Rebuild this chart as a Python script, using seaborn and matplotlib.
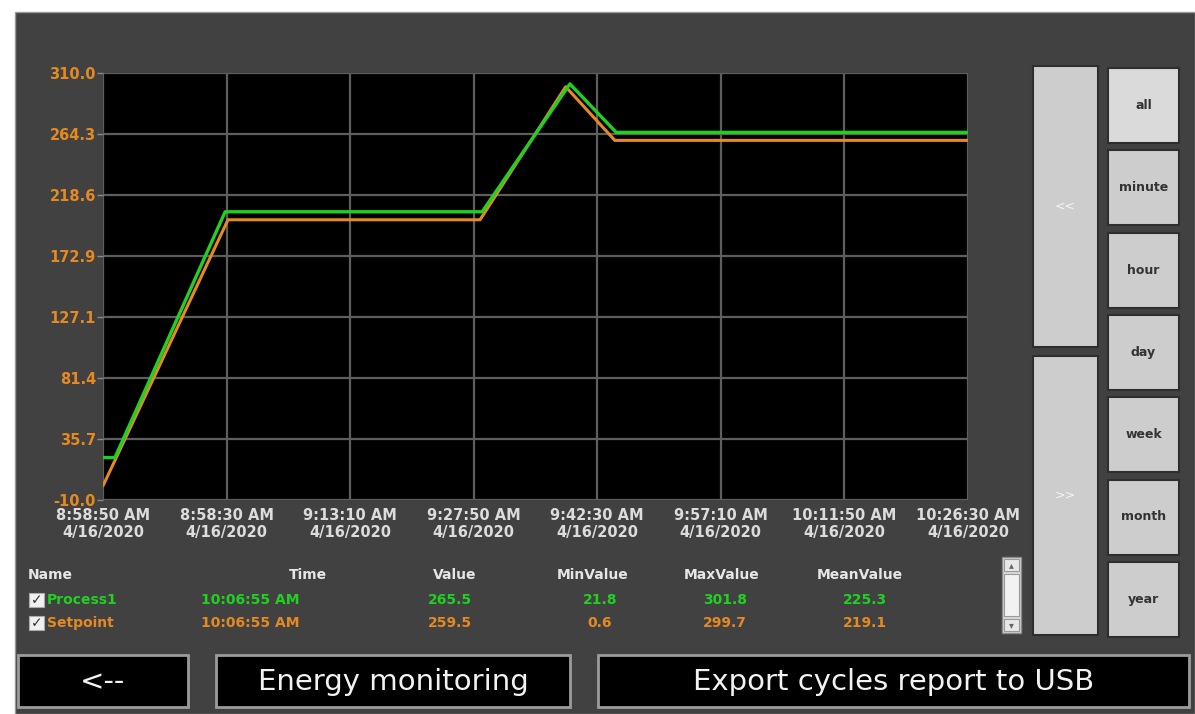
import numpy as np
import matplotlib
matplotlib.use("Agg")
import matplotlib.pyplot as plt
import matplotlib.dates as mdates
from matplotlib.patches import Rectangle
import pandas as pd
import seaborn as sns

#### DATA ##########
# trend points (time, value)
process_times = ['08:43:50', '08:45:15', '08:58:20', '09:28:50', '09:39:15', '09:44:45', '10:26:30']
process_values = [21.8, 21.8, 206.0, 206.0, 301.8, 265.5, 265.5]
setpoint_times = ['08:43:50', '08:58:40', '09:28:35', '09:38:45', '09:44:35', '10:26:30']
setpoint_values = [0.6, 200.0, 200.0, 299.7, 259.5, 259.5]

y_ticks = [-10.0, 35.7, 81.4, 127.1, 172.9, 218.6, 264.3, 310.0]
x_tick_times = ['08:43:50', '08:58:30', '09:13:10', '09:27:50', '09:42:30', '09:57:10', '10:11:50', '10:26:30']
x_tick_labels = ['8:58:50 AM\n4/16/2020', '8:58:30 AM\n4/16/2020', '9:13:10 AM\n4/16/2020',
                 '9:27:50 AM\n4/16/2020', '9:42:30 AM\n4/16/2020', '9:57:10 AM\n4/16/2020',
                 '10:11:50 AM\n4/16/2020', '10:26:30 AM\n4/16/2020']

table_header = ['Name', 'Time', 'Value', 'MinValue', 'MaxValue', 'MeanValue']
table_rows = [['Process1', '10:06:55 AM', '265.5', '21.8', '301.8', '225.3'],
              ['Setpoint', '10:06:55 AM', '259.5', '0.6', '299.7', '219.1']]

range_buttons = ['all', 'minute', 'hour', 'day', 'week', 'month', 'year']
bottom_buttons = ['<--', 'Energy monitoring', 'Export cycles report to USB']

#### COLORS ##########
BG = '#414141'
GREEN = '#22d022'
ORANGE = '#e58a22'
BTN = '#cdcdcd'

day = '2020-04-16 '
proc = pd.DataFrame({'time': pd.to_datetime([day + t for t in process_times]), 'value': process_values})
setp = pd.DataFrame({'time': pd.to_datetime([day + t for t in setpoint_times]), 'value': setpoint_values})
xt = pd.to_datetime([day + t for t in x_tick_times])

sns.set_theme(style='dark')
plt.rcParams['font.family'] = ['DejaVu Sans']

fig = plt.figure(figsize=(11.95, 7.14), dpi=100)
fig.patch.set_facecolor('white')

# screen background / widgets in pixel coords
ui = fig.add_axes([0, 0, 1, 1], zorder=0)
ui.set_xlim(0, 1195)
ui.set_ylim(714, 0)
ui.axis('off')
ui.add_patch(Rectangle((15, 12), 1180, 702, facecolor=BG, edgecolor='#9a9a9a', lw=1))

# table under the chart
col_x = [28, 308, 455, 593, 722, 860]
val_x = [47, 250, 450, 600, 725, 865]
for i, h in enumerate(table_header):
    ui.text(col_x[i], 575, h, color='#e6e6e6', fontsize=10, fontweight='bold',
            ha='left' if i == 0 else 'center', va='center')
for r, (row, col) in enumerate(zip(table_rows, [GREEN, ORANGE])):
    y = 600 + r * 23
    ui.add_patch(Rectangle((29, y - 7), 15, 14, facecolor='#f0f0f0', edgecolor='#aaaaaa', lw=0.8))
    ui.text(36.5, y, '\u2713', color='#333333', fontsize=10, fontweight='bold', ha='center', va='center')
    for i, v in enumerate(row):
        ui.text(val_x[i], y, v, color=col, fontsize=10, fontweight='bold',
                ha='left' if i == 0 else 'center', va='center')

# scrollbar
ui.add_patch(Rectangle((1002, 557), 19, 76, facecolor='#d8d8d8', edgecolor='#8a8a8a', lw=1))
ui.add_patch(Rectangle((1004, 559), 15, 12, facecolor='#e8e8e8', edgecolor='#9a9a9a', lw=0.8))
ui.add_patch(Rectangle((1004, 619), 15, 12, facecolor='#e8e8e8', edgecolor='#9a9a9a', lw=0.8))
ui.add_patch(Rectangle((1004, 574), 15, 42, facecolor='#f2f2f2', edgecolor='#9a9a9a', lw=0.8))
ui.text(1011.5, 565, '\u25b4', color='#666666', fontsize=7, ha='center', va='center')
ui.text(1011.5, 625, '\u25be', color='#666666', fontsize=7, ha='center', va='center')

# scroll buttons
for y0, y1, s in [(66, 347, '<<'), (356, 635, '>>')]:
    ui.add_patch(Rectangle((1033, y0), 65, y1 - y0, facecolor=BTN, edgecolor='#2e2e2e', lw=1.5))
    ui.text(1065.5, (y0 + y1) / 2, s, color='#f4f4f4', fontsize=9, ha='center', va='center')

# range buttons
for i, s in enumerate(range_buttons):
    y0 = 68 + i * 82.3
    ui.add_patch(Rectangle((1108, y0), 71, 75, facecolor='#dadada' if i == 0 else BTN,
                           edgecolor='#2e2e2e', lw=1.5))
    ui.text(1143.5, y0 + 37.5, s, color='#333333', fontsize=9, fontweight='bold', ha='center', va='center')

# bottom buttons
for (x0, x1), s in zip([(18, 188), (216, 570), (598, 1189)], bottom_buttons):
    ui.add_patch(Rectangle((x0, 655), x1 - x0, 52, facecolor='black', edgecolor='#9c9c9c', lw=2))
    ui.text((x0 + x1) / 2, 682, s, color='#f2f2f2', fontsize=21, ha='center', va='center')

#### TREND CHART ##########
ax = fig.add_axes([103 / 1195, 1 - 500 / 714, 865 / 1195, 427 / 714], zorder=1)
ax.set_facecolor('black')
sns.lineplot(data=setp, x='time', y='value', color=ORANGE, lw=2.2, ax=ax)
sns.lineplot(data=proc, x='time', y='value', color=GREEN, lw=2.4, ax=ax)

ax.set_xlim(xt[0], xt[-1])
ax.set_ylim(y_ticks[0], y_ticks[-1])
ax.set_xticks(xt)
ax.set_xticklabels(x_tick_labels, color='#dcdcdc', fontsize=10.5, fontweight='bold', linespacing=1.15)
ax.set_yticks(y_ticks)
ax.set_yticklabels(['%.1f' % v for v in y_ticks], color=ORANGE, fontsize=10.5, fontweight='bold')
ax.tick_params(axis='y', length=4, width=1, color='#8a8a8a', pad=1, left=True)
ax.tick_params(axis='x', length=0, pad=6)
ax.grid(True, color='#5e5e5e', lw=1.6)
ax.set_xlabel('')
ax.set_ylabel('')
for sp in ax.spines.values():
    sp.set_visible(False)

fig.savefig('out.png', dpi=100, facecolor=fig.get_facecolor())
